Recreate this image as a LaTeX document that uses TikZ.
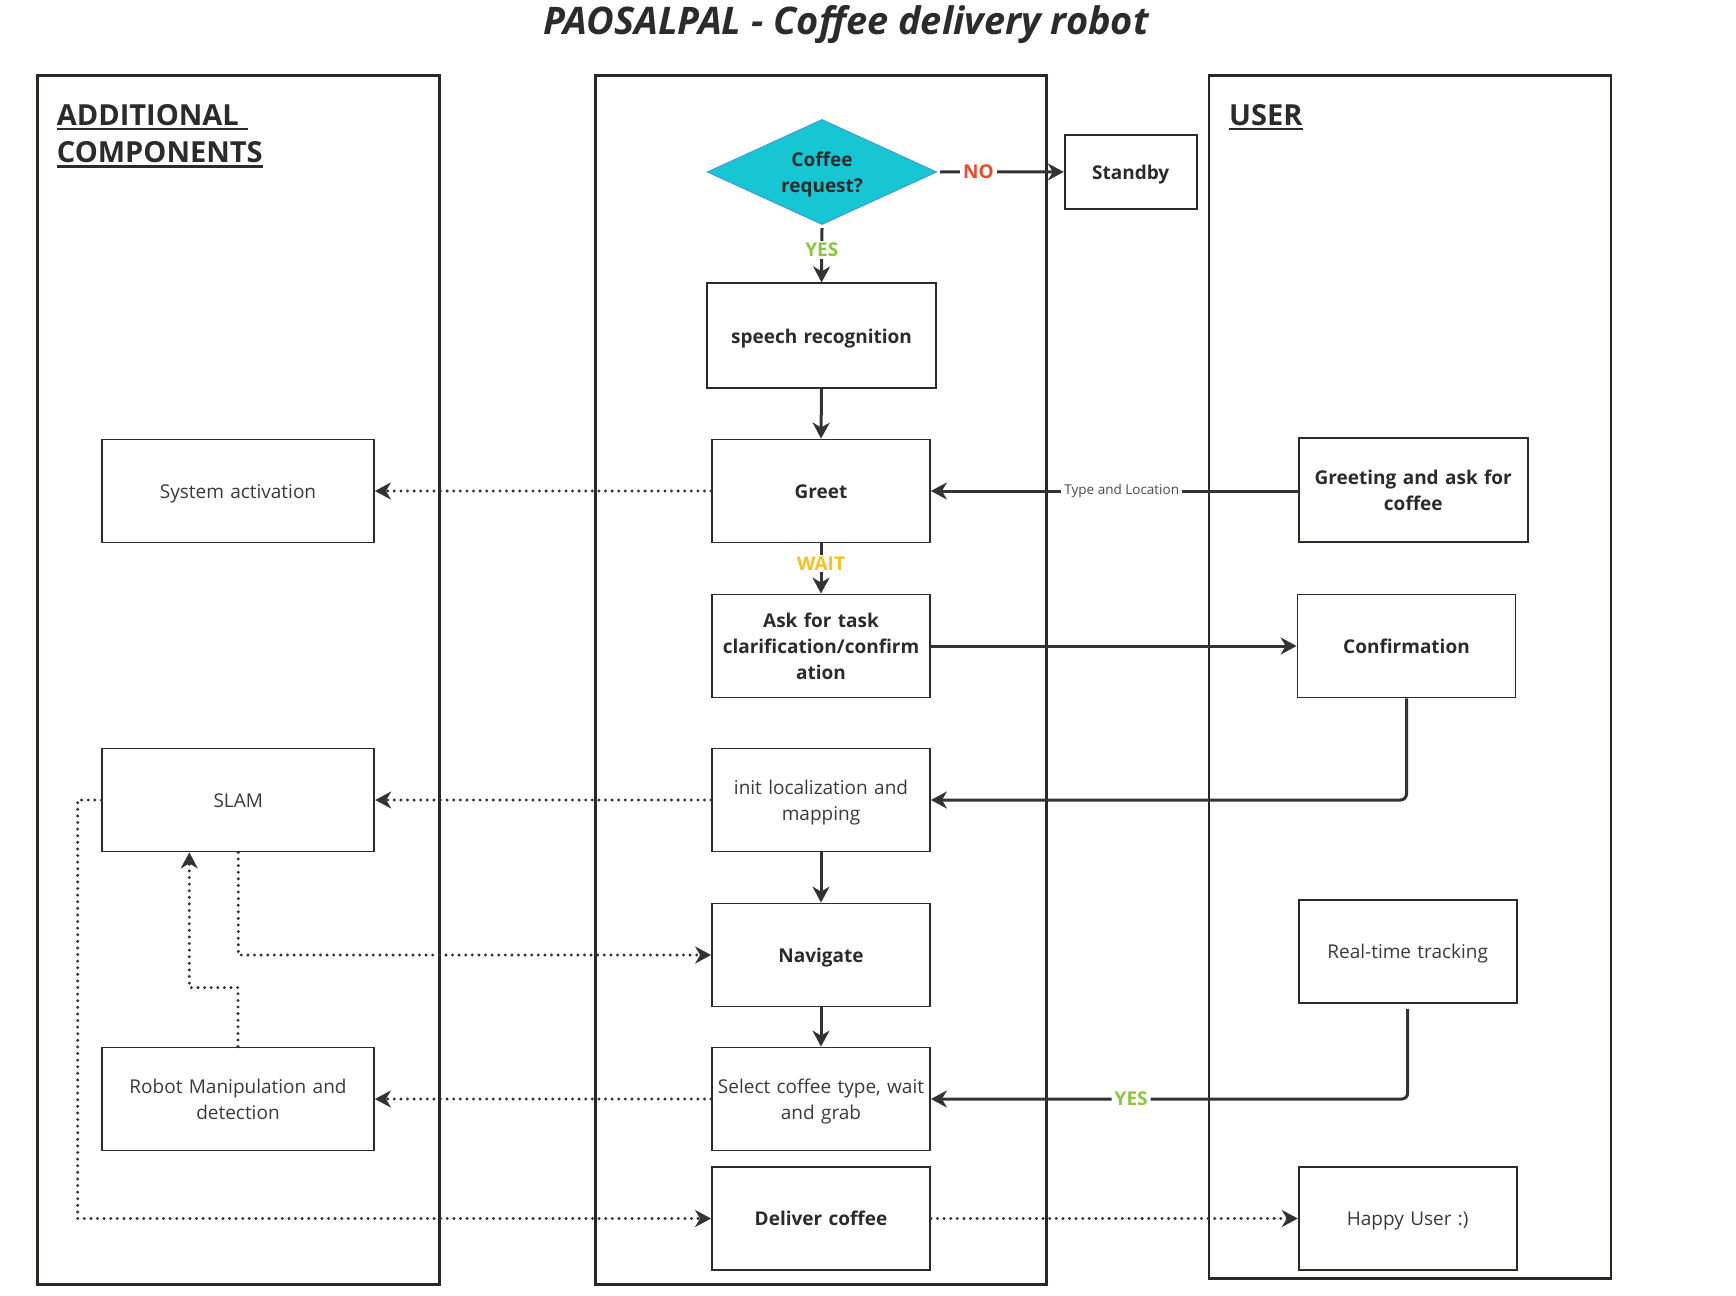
\documentclass[tikz,border=0pt]{standalone}
\usepackage{fontspec}
\setmainfont{Open Sans}
\usetikzlibrary{arrows.meta,shapes.geometric}
\definecolor{lanec}{HTML}{2B2822}
\definecolor{boxc}{HTML}{2E2B25}
\definecolor{connc}{HTML}{333333}
\definecolor{txt}{HTML}{2B2B2B}
\definecolor{txtr}{HTML}{3A3A3A}
\definecolor{noc}{HTML}{E94B2A}
\definecolor{yesc}{HTML}{8CC63F}
\definecolor{waitc}{HTML}{F6C21B}
\definecolor{diafill}{HTML}{17C6D3}
\definecolor{diadraw}{HTML}{3AA0DC}
\definecolor{lblc}{HTML}{4A4A4A}
\newcommand\hs{\rule[-5.6pt]{0pt}{26pt}}
\begin{document}
\begin{tikzpicture}[x=1pt,y=-1pt,
  lane/.style={draw=lanec,line width=2.5pt},
  box/.style={draw=boxc,line width=1.8pt,fill=white,minimum width=218pt,minimum height=103pt,
    align=center,inner sep=0pt,text width=210pt},
  bbox/.style={box,text=txt,font=\fontsize{19}{26}\selectfont\bfseries},
  rbox/.style={box,text=txtr,font=\fontsize{19}{26}\selectfont},
  wide/.style={minimum width=272pt,text width=264pt},
  tip/.style={-{Stealth[length=16pt,width=17pt,inset=5pt]}},
  conn/.style={draw=connc,line width=3pt,tip},
  dotc/.style={draw=connc,line width=3.3pt,dash pattern=on 0pt off 6.6pt,line cap=round,tip},
  flag/.style={fill=white,inner sep=3pt,font=\fontsize{19}{22}\selectfont\bfseries},
  head/.style={anchor=base west,inner sep=0pt,text=txt,font=\fontsize{29}{34}\selectfont\bfseries}
]
\useasboundingbox (0,0) rectangle (1736,1295);

% title
\node[text=txt,font=\fontsize{38}{42}\selectfont\bfseries\itshape] (title) at (846,25) {PAOSALPAL - Coffee delivery robot};

% lanes
\draw[lane] (37.6,75.3) rectangle (439.5,1284.3);
\draw[lane] (595.6,75.3) rectangle (1046.5,1284.3);
\draw[lane] (1209,75.3) rectangle (1610.8,1278.7);

% lane headers
\node[head] (h1) at (56.7,125.7) {ADDITIONAL};
\node[head] (h2) at (56.7,162.5) {COMPONENTS};
\node[head] (h3) at (1229,125.7) {USER};
\draw[txt,line width=2.3pt] ([yshift=-3.5pt]h1.base west) -- ([yshift=-3.5pt,xshift=9pt]h1.base east);
\draw[txt,line width=2.3pt] ([yshift=-4pt]h2.base west) -- ([yshift=-4pt]h2.base east);
\draw[txt,line width=2.3pt] ([yshift=-3.5pt]h3.base west) -- ([yshift=-3.5pt]h3.base east);

% nodes - middle lane
\node[diamond,draw=diadraw,line width=1.2pt,fill=diafill,minimum width=229pt,minimum height=105pt,
  inner sep=0pt,aspect=2.2,align=center,text=txt,font=\fontsize{19}{26}\selectfont\bfseries]
  (dia) at (822,172) {\hs Coffee\\\hs request?};
\node[bbox,minimum width=132pt,minimum height=74pt,text width=124pt] (standby) at (1130.7,171.9) {\hs Standby};
\node[bbox,minimum width=229pt,minimum height=105pt] (speech) at (821.5,335.8) {\hs speech recognition};
\node[bbox] (greet) at (821,491) {\hs Greet};
\node[bbox] (ask) at (821,646) {\hs Ask for task\\\hs clarification/confirm\\\hs ation};
\node[rbox] (init) at (821,800) {\hs init localization and\\\hs mapping};
\node[bbox] (nav) at (821,955) {\hs Navigate};
\node[rbox] (select) at (821,1099) {\hs Select coffee type, wait\\\hs and grab};
\node[bbox] (deliver) at (821,1218.5) {\hs Deliver coffee};

% left lane
\node[rbox,wide] (sysact) at (238,491) {\hs System activation};
\node[rbox,wide] (slam) at (238.3,800) {\hs SLAM};
\node[rbox,wide] (robot) at (238,1099) {\hs Robot Manipulation and\\\hs detection};

% right lane
\node[bbox,minimum width=229pt,minimum height=104pt,text width=220pt] (greeting) at (1413.3,490) {\hs Greeting and ask for\\\hs coffee};
\node[bbox] (confirm) at (1406.5,646) {\hs Confirmation};
\node[rbox] (rtt) at (1407.7,951.5) {\hs Real-time tracking};
\node[rbox] (happy) at (1407.7,1218.5) {\hs Happy User :)};

% connectors
\draw[conn] ([yshift=-3pt]dia.south) -- node[flag,text=yesc,inner sep=2pt,pos=0.4]{YES} (speech.north);
\draw[conn] ([xshift=3pt]dia.east) -- node[flag,text=noc,pos=0.31]{NO} (standby.west);
\draw[conn] (speech.south) -- (greet.north);
\draw[dotc] (greet.west) -- (sysact.east);
\draw[conn] (greeting.west |- greet.east) -- node[pos=0.48,fill=white,inner sep=3pt,text=lblc,font=\fontsize{13.5}{15}\selectfont]{Type and Location} (greet.east);
\draw[conn] (greet.south) -- node[flag,text=waitc,inner sep=2pt,pos=0.4]{WAIT} (ask.north);
\draw[conn] (ask.east) -- (confirm.west);
\draw[conn,rounded corners=6pt] (confirm.south) |- (init.east);
\draw[dotc] (init.west) -- (slam.east);
\draw[conn] (init.south) -- (nav.north);
\draw[dotc] (slam.south) |- (nav.west);
\coordinate (k1) at (189.3,987.6);
\draw[dotc] (robot.north) |- (k1) -- (k1 |- slam.south);
\draw[conn] (nav.south) -- (select.north);
\draw[dotc] (select.west) -- (robot.east);
\draw[conn,rounded corners=6pt] ([yshift=-5pt]rtt.south) |- node[flag,text=yesc,pos=0.79]{YES} (select.east);
\coordinate (k2) at (77.7,1218.5);
\draw[dotc] (slam.west) -| (k2) -- (deliver.west);
\draw[dotc] (deliver.east) -- (happy.west);
\end{tikzpicture}
\end{document}
